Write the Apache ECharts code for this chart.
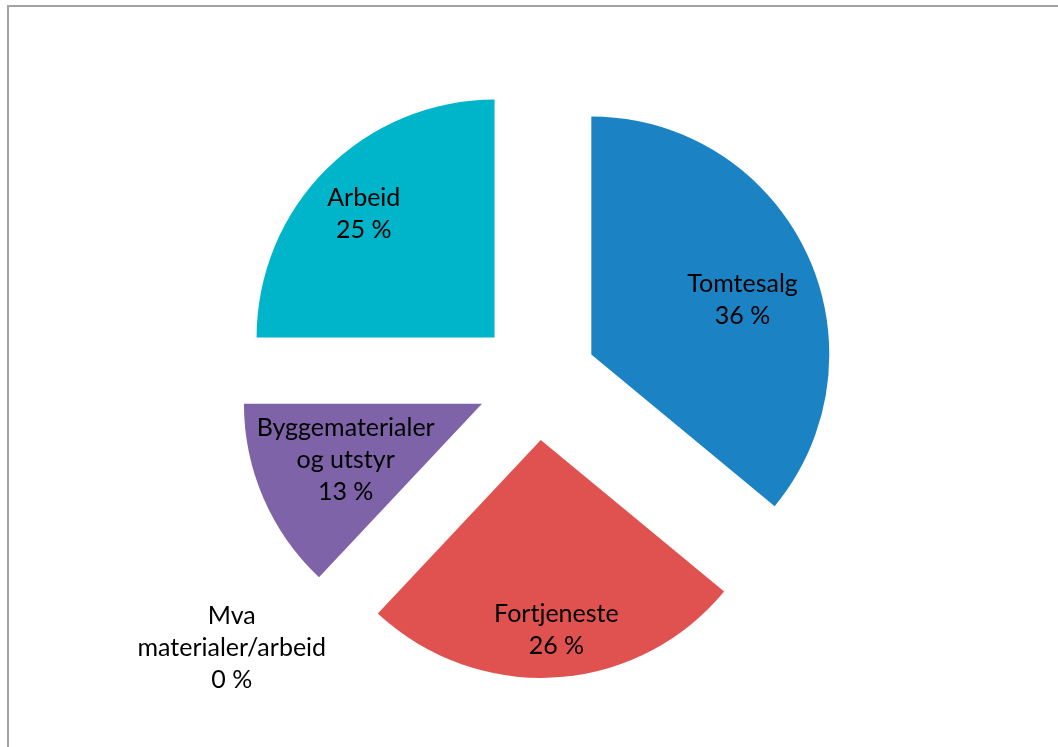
<!DOCTYPE html>
<html>
<head>
<meta charset="utf-8">
<script src="https://cdn.jsdelivr.net/npm/echarts@6/dist/echarts.min.js"></script>
<style>
  html, body { margin: 0; padding: 0; overflow: hidden; background: #fff; }
  #chart { position: absolute; left: 0; top: 0; width: 1058px; height: 747px; }
  #frame { position: absolute; left: 7px; top: 5px; width: 3000px; height: 3000px;
           border-left: 2px solid #a3a3a3; border-top: 2px solid #a3a3a3; pointer-events: none; }
</style>
</head>
<body>
<div id="chart"></div>
<div id="frame"></div>
<script>
// ---- data ----
const categories = ['Tomtesalg', 'Fortjeneste', 'Mva\nmaterialer/arbeid', 'Byggematerialer\nog utstyr', 'Arbeid'];
const values = [36, 26, 0, 13, 25];
const colors = ['#1b83c4', '#e0524f', '#9e9e9e', '#7f63a9', '#00b4c9'];
// which label layer shows each category's label
const nearLabelIdx = [0, 3];   // labels closer to the slice centre
const farLabelIdx = [1, 4];    // labels nearer the rim
const outsideLabelIdx = [2];   // label outside the pie
// small label nudges (px) per category, same order as categories
const labelNudge = [[11, 11], [4, 5], [0, 0], [6, -5], [0, 7]];

const FONT = { fontFamily: 'Lato', fontSize: 25, lineHeight: 32, color: '#000' };
const CENTER = [537, 380];
const R = 238;
const OFFSET = 60;

function fmt(p) { return p.name + '\n' + Math.round(p.percent) + ' %'; }

function layoutFn(p) {
  const n = labelNudge[p.dataIndex] || [0, 0];
  const o = { dx: n[0], dy: n[1] };
  if (outsideLabelIdx.indexOf(p.dataIndex) >= 0) o.align = 'center';
  return o;
}

function buildData(showIdx, transparent) {
  return categories.map((name, i) => ({
    name: name,
    value: values[i],
    selected: true,
    itemStyle: { color: transparent ? 'rgba(0,0,0,0)' : colors[i] },
    label: { show: showIdx.indexOf(i) >= 0 }
  }));
}

function baseSeries(radius, showIdx, transparent) {
  return {
    type: 'pie',
    center: CENTER,
    radius: radius,
    startAngle: 90,
    clockwise: true,
    selectedMode: 'multiple',
    selectedOffset: OFFSET,
    avoidLabelOverlap: false,
    silent: transparent,
    emphasis: { disabled: true },
    select: { itemStyle: { borderWidth: 0 } },
    itemStyle: { borderWidth: 0 },
    animation: false,
    labelLayout: layoutFn,
    data: buildData(showIdx, transparent)
  };
}

const mainSeries = Object.assign(baseSeries([0, R], outsideLabelIdx, false), {
  label: Object.assign({ position: 'outside', formatter: fmt, distanceToLabelLine: 5 }, FONT),
  labelLine: { show: false, length: 69, length2: 49 }
});

const nearSeries = Object.assign(baseSeries([66, R], nearLabelIdx, true), {
  label: Object.assign({ position: 'inside', formatter: fmt }, FONT),
  labelLine: { show: false }
});

const farSeries = Object.assign(baseSeries([126, R], farLabelIdx, true), {
  label: Object.assign({ position: 'inside', formatter: fmt }, FONT),
  labelLine: { show: false }
});

const chart = echarts.init(document.getElementById('chart'), null, { renderer: 'canvas' });
chart.setOption({
  backgroundColor: '#fff',
  animation: false,
  series: [mainSeries, nearSeries, farSeries]
});
</script>
</body>
</html>
